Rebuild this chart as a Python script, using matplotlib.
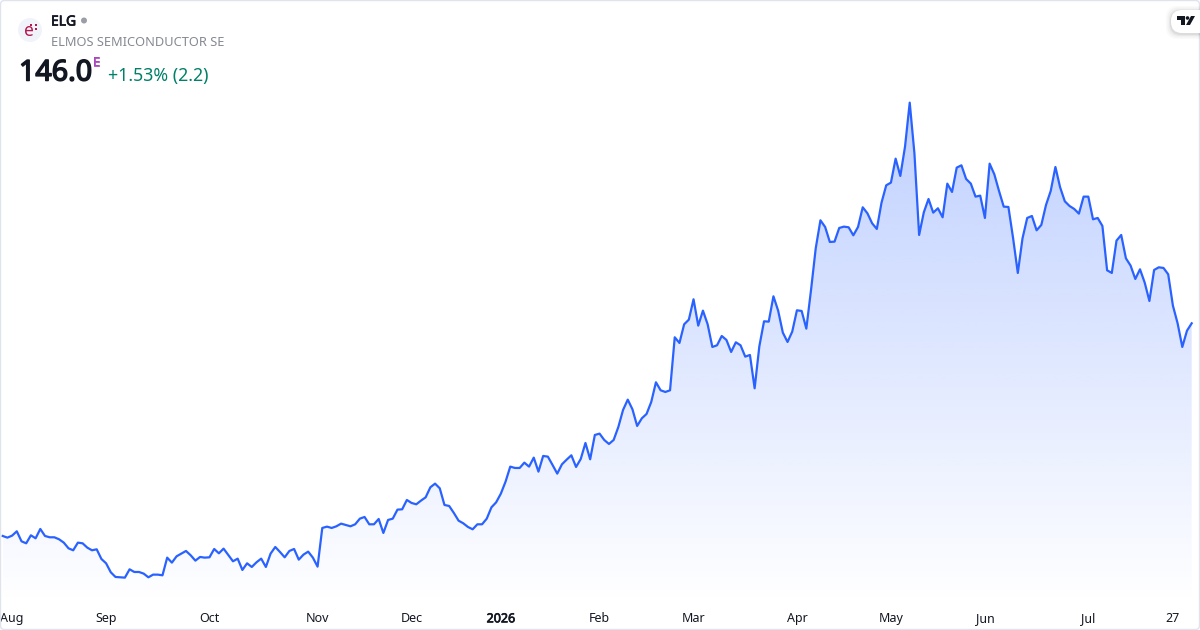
import numpy as np
import matplotlib
matplotlib.use("Agg")
import matplotlib.pyplot as plt
import matplotlib.patheffects as pe
from matplotlib.patches import FancyBboxPatch, Circle, Polygon, Rectangle

plt.rcParams['font.family'] = ['Noto Sans', 'DejaVu Sans']

prices_aug_dec = [82.2,81.7,82.3,83.6,80.6,80,82.4,81.5,84.3,82.2,81.8,81.8,81.2,80.2,78.5,77.9,80.2,80,78.7,77.9,78.2,75.3,74,71.3,69.9,69.8,69.7,72.2,71.4,71.4,70.9,69.8,70.6,70.6,70.4,75.7,74.2,76.1,76.9,77.7,76.4,74.8,75.9,75.7,75.8,78.3,77,78.4,76.5,74.6,75.4,72,74,72.9,74.3,75.4,72.9,76.9,78.9,77.4,75.8,77.7,78.3,75.1,76.6,77.5,75.7,73,84.6,85,84.6,85.1,85.9,85.5,85.1,85.7,87.4,87.9,85.7,85.7,87.3,83.1,87,87.4,90.1]
prices_dec_apr = [90.2,93,92.1,91.7,92.8,93.8,96.8,97.9,96.5,91.5,91.2,89.1,86.8,86,84.9,84.2,85.7,85.7,87.4,90.8,92.3,94.9,98.5,103,102.6,102.6,104.2,103,105.7,101.5,106.2,106,103.5,100.9,103.7,105.1,106.4,102.9,105.3,110.1,105.2,112.5,112.9,111,109.8,111,114.9,120,123.1,120.2,115.2,117.5,118.8,122.4,128.3,125.9,125.4,125.9,141.8,140.1,145.7,147.1,153.2,145.3,149.8,145.7,138.9,139.4,142.2,141,137.4,140.3,139.4,136,136.5,126.5,139.1,146.6,146.5,154.1,149.8,143.2,140.4,143.5,149.9]
prices_apr_jul = [149.7,144.4,156,168.5,176.9,174.9,170.4,170.5,174.6,175,174.8,172.4,174.9,180.8,179,176,174.3,182.2,187.4,188.2,195.4,190.2,199,212.2,197,172.5,179.3,183.3,179.2,180.5,177.8,187.9,185.4,192.7,193.4,189.3,187.9,184,184.3,177.6,193.9,190.7,185.7,181,180.9,171.5,161.1,171.5,177.6,178.2,173.9,175.5,181.5,185.7,192.9,186.8,182.6,181.2,180.3,178.9,184,184,177.2,177.6,175.2,161.9,161.1,170.8,172.5,165.5,163.3,159.3,162.2,158.2,152.7,162,162.8,162.6,160.7,151.3,146,138.9,143.8,146.0]
tick_labels = ['Aug','Sep','Oct','Nov','Dec','2026','Feb','Mar','Apr','May','Jun','Jul','27']
tick_index = [2,22,44,67,87,106,127,147,169,189,209,231,249]

prices = np.array(prices_aug_dec + prices_dec_apr + prices_apr_jul)
idx = np.arange(len(prices))
W, H = 1200, 630
BOTTOM = 604
x0, x1 = 2.7, 1191.7
step = (x1 - x0) / (len(prices) - 1)
val = lambda y: 146 + (323.3 - y) * 0.3

def bold(amount):
    return [pe.withStroke(linewidth=amount, foreground='#131722')]

fig = plt.figure(figsize=(12, 6.3), dpi=100, facecolor='white')
ax = fig.add_axes([0, 1 - BOTTOM / H, 1, BOTTOM / H])
ax.patch.set_alpha(0)
for s in ax.spines.values():
    s.set_visible(False)
ax.set_yticks([])
ax.set_xticks(tick_index)
ax.set_xticklabels(tick_labels, fontsize=9, color='#131722')
ax.get_xticklabels()[5].set_path_effects(bold(0.5))
ax.tick_params(axis='x', length=0, pad=6)

# gradient area under the line
top_v, bot_v = prices.max(), val(BOTTOM)
n = 400
alpha = np.linspace(0.30, 0.0, n)[:, None]
rgba = np.zeros((n, 1, 4))
rgba[..., 0], rgba[..., 1], rgba[..., 2] = 41/255, 98/255, 255/255
rgba[..., 3] = alpha
im = ax.imshow(rgba, extent=[idx[0], idx[-1], bot_v, top_v], origin='upper',
               aspect='auto', zorder=1, interpolation='bilinear')
clip = Polygon(np.column_stack([np.r_[idx[0], idx, idx[-1]], np.r_[bot_v, prices, bot_v]]),
               closed=True, transform=ax.transData, fc='none', ec='none')
ax.add_patch(clip)
im.set_clip_path(clip)
ax.set_xlim(-x0 / step, (W - x0) / step)
ax.set_ylim(val(BOTTOM), val(0))
ax.plot(idx, prices, color='#2962FF', lw=1.6, zorder=3, solid_joinstyle='round')

# overlay in pixel coordinates
ov = fig.add_axes([0, 0, 1, 1], zorder=5)
ov.set_xlim(0, W); ov.set_ylim(H, 0); ov.axis('off'); ov.patch.set_alpha(0)
ov.add_patch(FancyBboxPatch((0.5, 0.5), W - 1, H - 1, boxstyle='round,pad=0,rounding_size=4',
                            fc='none', ec='#e0e3eb', lw=1))

# logo
ov.add_patch(Circle((30, 30), 12, fc='#f0f3fa', ec='none'))
ov.text(28.5, 30.5, 'e', fontsize=12.5, color='#b5174f', ha='center', va='center')
for (a, b) in [(30, 24), (34.5, 23.5), (34.5, 27.5)]:
    ov.add_patch(Rectangle((a, b), 2.4, 2.4, fc='#b5174f', ec='none'))

ov.text(51, 22, 'ELG', fontsize=10, color='#131722', va='center', path_effects=bold(0.5))
ov.add_patch(Circle((84, 20.5), 3, fc='#9b9ea6', ec='none'))
ov.text(51, 42, 'ELMOS SEMICONDUCTOR SE', fontsize=9.25, color='#868993', va='center')
ov.text(19, 73, '146.0', fontsize=20.6, color='#131722', va='center', path_effects=bold(1.1))
ov.text(93, 62, 'E', fontsize=8.5, color='#ab47bc', va='center',
        path_effects=[pe.withStroke(linewidth=0.5, foreground='#ab47bc')])
ov.text(108, 76, '+1.53% (2.2)', fontsize=12.8, color='#008068', va='center')

# brand chip
for i, a in zip([5, 3.5, 2, 1], [0.02, 0.03, 0.04, 0.05]):
    ov.add_patch(FancyBboxPatch((1171 - i, 10 - i + 1), 40 + 2 * i, 23 + 2 * i,
                                boxstyle='round,pad=0,rounding_size=11', fc='black', ec='none', alpha=a))
ov.add_patch(FancyBboxPatch((1171, 10), 40, 23, boxstyle='round,pad=0,rounding_size=11', fc='white', ec='none'))
ov.add_patch(Polygon([(1177, 16), (1184.5, 16), (1184.5, 25), (1181, 25), (1181, 19.5), (1177, 19.5)], fc='#131722', ec='none'))
ov.add_patch(Circle((1187.5, 18), 1.8, fc='#131722', ec='none'))
ov.add_patch(Polygon([(1191, 16), (1195, 16), (1190, 25), (1186, 25)], fc='#131722', ec='none'))

fig.savefig('out.png', dpi=100, facecolor='white')
